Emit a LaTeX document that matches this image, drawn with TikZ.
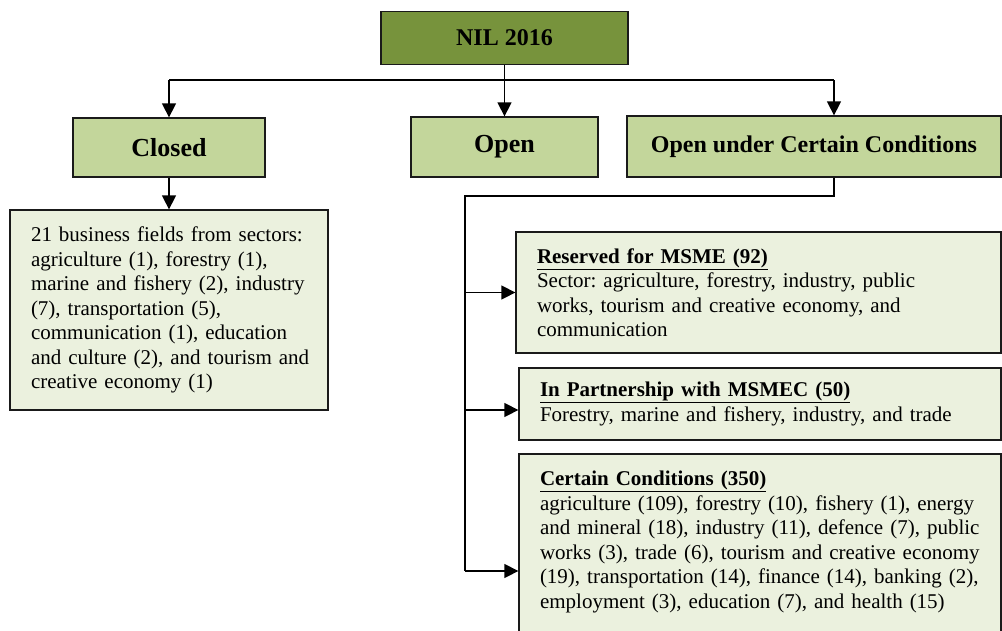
\documentclass[tikz,border=0pt]{standalone}
\usepackage{fontspec}
\setmainfont{Liberation Serif}
\usetikzlibrary{arrows.meta}
\definecolor{nilgreen}{HTML}{77933C}
\definecolor{headgreen}{HTML}{C3D69B}
\definecolor{palegreen}{HTML}{EBF1DE}
\definecolor{edge}{HTML}{1A1A1A}
\frenchspacing

\begin{document}
\begin{tikzpicture}[x=1pt,y=-1pt,
  box/.style={draw=edge, line width=1.3pt, rectangle},
  headbox/.style={box, fill=headgreen, inner sep=0pt,
    font=\fontsize{24}{28}\selectfont\bfseries},
  bighead/.style={headbox, font=\fontsize{26}{30}\selectfont\bfseries},
  topbox/.style={headbox, fill=nilgreen},
  detailbox/.style={box, fill=palegreen, inner xsep=21pt, inner ysep=4pt,
    align=left, font=\fontsize{21}{24.5}\selectfont},
  link/.style={line width=1.4pt, draw=black},
  arr/.style={link, -{Triangle[width=14pt,length=14pt]}}
]
\useasboundingbox (0,0) rectangle (1002,630);
\clip (0,0) rectangle (1002,630);

% top level
\node[topbox, minimum width=247pt, minimum height=53pt] (nil) at (504.5,38) {NIL 2016};

% three categories
\node[bighead, minimum width=192pt, minimum height=59pt] (closed) at (169,147.5) {Closed};
\node[bighead, minimum width=187pt, minimum height=60pt] (open) at (504.5,147) {Open};
\node[headbox, minimum width=374pt, minimum height=61pt] (cond) at (814,146.5) {Open under Certain Conditions};

% closed fields
\node[detailbox, text width=276pt, minimum height=200pt] (closeddet) at (169,310)
  {21 business fields from sectors:\\
   agriculture (1), forestry (1),\\
   marine and fishery (2), industry\\
   (7), transportation (5),\\
   communication (1), education\\
   \mbox{and culture (2), and tourism and}\\
   creative economy (1)};

% conditional fields
\node[detailbox, text width=443pt, minimum height=121pt] (msme) at (758.5,292.5)
  {\underline{\textbf{Reserved for MSME (92)}}\\
   Sector: agriculture, forestry, industry, public\\
   works, tourism and creative economy, and\\
   communication};
\node[detailbox, text width=440pt, minimum height=72pt] (partner) at (760,404)
  {\underline{\textbf{In Partnership with MSMEC (50)}}\\
   Forestry, marine and fishery, industry, and trade};
% this box runs on below the lower edge; an empty last row keeps the text high
\node[detailbox, text width=440pt, minimum height=196pt] (certain) at (760,552)
  {\underline{\textbf{Certain Conditions (350)}}\\
   agriculture (109), forestry (10), fishery (1), energy\\
   and mineral (18), industry (11), defence (7), public\\
   works (3), trade (6), tourism and creative economy\\
   (19), transportation (14), finance (14), banking (2),\\
   employment (3), education (7), and health (15)\\
   \mbox{}};

% connector points
\coordinate (bus) at (0,80);
\coordinate (tap) at (834,80);
\coordinate (elbow) at (465,196);
\coordinate (ptap) at (465,410);
\coordinate (ctap) at (465,571);

% connectors
\draw[link] (closed.north |- bus) -- (tap);
\draw[arr] (nil.south) -- (open.north);
\draw[arr] (closed.north |- bus) -- (closed.north);
\draw[arr] (tap) -- (tap |- cond.north);
\draw[arr] (closed.south) -- (closeddet.north);
\draw[link] (tap |- cond.south) |- (elbow) -- (ctap);
\draw[arr] (elbow |- msme.west) -- (msme.west);
\draw[arr] (ptap) -- (ptap -| partner.west);
\draw[arr] (ctap) -- (ctap -| certain.west);
\end{tikzpicture}
\end{document}
